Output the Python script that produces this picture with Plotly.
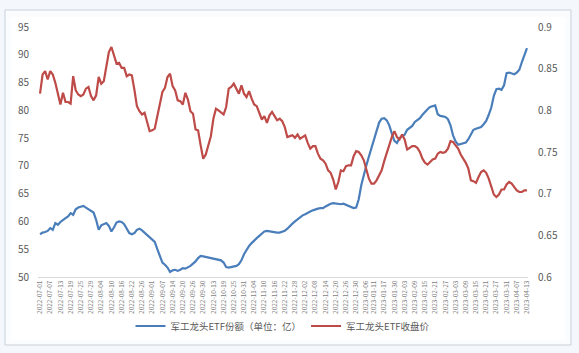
import pandas as pd
import plotly.graph_objects as go

# ---------------- data ----------------
START_DATE = "2022-07-01"
END_DATE = "2023-04-13"
HOLIDAYS = ["2022-09-12", "2022-10-03", "2022-10-04", "2022-10-05", "2022-10-06",
            "2022-10-07", "2023-01-02", "2023-01-23", "2023-01-24", "2023-01-25",
            "2023-01-26", "2023-01-27", "2023-04-05"]

SERIES_SHARES_NAME = "军工龙头ETF份额（单位：亿）"
SERIES_PRICE_NAME = "军工龙头ETF收盘价"

shares = [
    57.7, 58.0, 58.1, 58.3, 58.8, 58.5, 59.7, 59.4, 59.9, 60.3,
    60.6, 60.9, 61.5, 61.2, 62.2, 62.5, 62.7, 62.8, 62.5, 62.2,
    61.8, 61.6, 60.3, 58.5, 59.3, 59.5, 59.7, 59.2, 58.2, 58.9,
    59.8, 60.0, 59.9, 59.5, 58.7, 57.9, 57.7, 57.9, 58.5, 58.7,
    58.4, 58.0, 57.6, 57.2, 56.8, 56.3, 55.0, 53.7, 52.6, 52.2,
    51.7, 50.9, 51.2, 51.3, 51.1, 51.3, 51.6, 51.5, 51.7, 52.0,
    52.4, 52.8, 53.4, 53.8, 53.7, 53.6, 53.5, 53.4, 53.2, 53.1,
    53.0, 53.0, 52.6, 51.8, 51.7, 51.8, 51.9, 52.0, 52.3, 53.0,
    54.1, 54.9, 55.6, 56.1, 56.6, 57.0, 57.4, 57.8, 58.2, 58.3,
    58.2, 58.1, 58.0, 58.0, 58.0, 58.1, 58.3, 58.7, 59.2, 59.6,
    60.0, 60.4, 60.8, 61.1, 61.3, 61.6, 61.8, 62.0, 62.2, 62.3,
    62.4, 62.4, 62.7, 63.0, 63.2, 63.3, 63.2, 63.1, 63.1, 63.2,
    63.0, 62.8, 62.6, 62.4, 62.5, 64.0, 66.5, 68.5, 70.1, 71.7,
    73.3, 74.7, 76.2, 77.8, 78.5, 78.6, 78.2, 77.3, 75.8, 74.5,
    74.1, 75.0, 75.3, 75.6, 76.5, 76.8, 77.2, 77.9, 78.3, 78.6,
    79.2, 79.8, 80.2, 80.6, 80.8, 80.9, 79.3, 79.0, 78.9, 78.8,
    78.4, 77.3, 75.5, 74.4, 73.8, 73.9, 74.1, 74.2, 74.8, 75.8,
    76.5, 76.7, 76.8, 77.0, 77.5, 78.1, 79.2, 80.5, 82.6, 83.8,
    83.9, 83.7, 84.5, 86.7, 86.8, 86.7, 86.5, 86.8, 87.3, 88.7,
    89.9, 91.2,
]

price = [
    0.820, 0.843, 0.847, 0.837, 0.847, 0.843, 0.833, 0.819, 0.807, 0.821,
    0.810, 0.810, 0.808, 0.841, 0.824, 0.819, 0.817, 0.819, 0.826, 0.828,
    0.817, 0.812, 0.818, 0.840, 0.832, 0.835, 0.855, 0.870, 0.876, 0.867,
    0.856, 0.857, 0.851, 0.851, 0.841, 0.843, 0.842, 0.825, 0.805, 0.799,
    0.795, 0.797, 0.785, 0.775, 0.776, 0.778, 0.793, 0.809, 0.822, 0.827,
    0.840, 0.844, 0.829, 0.824, 0.812, 0.811, 0.807, 0.821, 0.813, 0.799,
    0.796, 0.777, 0.776, 0.758, 0.742, 0.747, 0.758, 0.769, 0.790, 0.802,
    0.800, 0.798, 0.795, 0.804, 0.826, 0.828, 0.832, 0.826, 0.820, 0.830,
    0.820, 0.816, 0.823, 0.814, 0.807, 0.805, 0.796, 0.789, 0.793, 0.785,
    0.794, 0.798, 0.793, 0.788, 0.790, 0.787, 0.780, 0.768, 0.769, 0.770,
    0.767, 0.771, 0.766, 0.768, 0.770, 0.761, 0.754, 0.757, 0.757, 0.748,
    0.742, 0.740, 0.736, 0.728, 0.725, 0.717, 0.705, 0.714, 0.728, 0.727,
    0.733, 0.734, 0.734, 0.745, 0.751, 0.750, 0.746, 0.740, 0.729, 0.718,
    0.712, 0.712, 0.716, 0.722, 0.728, 0.739, 0.749, 0.757, 0.768, 0.775,
    0.768, 0.765, 0.771, 0.765, 0.753, 0.755, 0.757, 0.757, 0.755, 0.750,
    0.742, 0.737, 0.735, 0.738, 0.741, 0.742, 0.748, 0.750, 0.749, 0.750,
    0.754, 0.763, 0.762, 0.758, 0.754, 0.747, 0.742, 0.737, 0.730, 0.716,
    0.715, 0.713, 0.720, 0.726, 0.728, 0.725, 0.718, 0.709, 0.699, 0.696,
    0.699, 0.705, 0.705, 0.711, 0.714, 0.712, 0.708, 0.704, 0.702, 0.702,
    0.704, 0.704,
]

TICK_LABELS = [
    "2022-07-01", "2022-07-07", "2022-07-13", "2022-07-19", "2022-07-25", "2022-07-29",
    "2022-08-04", "2022-08-10", "2022-08-16", "2022-08-22", "2022-08-26", "2022-09-01",
    "2022-09-07", "2022-09-14", "2022-09-20", "2022-09-26", "2022-09-30", "2022-10-13",
    "2022-10-19", "2022-10-25", "2022-10-31", "2022-11-04", "2022-11-10", "2022-11-16",
    "2022-11-22", "2022-11-28", "2022-12-02", "2022-12-08", "2022-12-14", "2022-12-20",
    "2022-12-26", "2022-12-30", "2023-01-06", "2023-01-11", "2023-01-17", "2023-01-30",
    "2023-02-03", "2023-02-09", "2023-02-15", "2023-02-21", "2023-02-27", "2023-03-03",
    "2023-03-09", "2023-03-15", "2023-03-21", "2023-03-27", "2023-03-31", "2023-04-07",
    "2023-04-13",
]

LEFT_TICKS = [50, 55, 60, 65, 70, 75, 80, 85, 90, 95]
RIGHT_TICKS = [0.6, 0.65, 0.7, 0.75, 0.8, 0.85, 0.9]

# ---------------- categories ----------------
days = pd.bdate_range(START_DATE, END_DATE)
days = days[~days.isin(pd.to_datetime(HOLIDAYS))]
dates = [d.strftime("%Y-%m-%d") for d in days]
n = min(len(dates), len(shares), len(price))
dates, shares, price = dates[:n], shares[:n], price[:n]
tickvals = [t for t in TICK_LABELS if t in dates]

# ---------------- layout geometry (pixels) ----------------
W, H = 579, 353
L, R, T, B = 38, 51, 27, 76
PW, PH = W - L - R, H - T - B


def px(x):
    return (x - L) / PW


def py(y):
    return (H - B - y) / PH


FONT = "Noto Sans CJK SC, Liberation Sans, Arial, sans-serif"
GREY = "#595959"
BLUE = "#4a7ebb"
RED = "#be4b48"

fig = go.Figure()
fig.add_trace(go.Scatter(x=dates, y=shares, name=SERIES_SHARES_NAME, mode="lines",
                         line=dict(color=BLUE, width=2.2), yaxis="y"))
fig.add_trace(go.Scatter(x=dates, y=price, name=SERIES_PRICE_NAME, mode="lines",
                         line=dict(color=RED, width=2.2), yaxis="y2"))

fig.update_layout(
    width=W, height=H,
    margin=dict(l=L, r=R, t=T, b=B, pad=0),
    paper_bgcolor="#f4f8fc",
    plot_bgcolor="rgba(0,0,0,0)",
    font=dict(family=FONT, color=GREY, size=10),
    showlegend=True,
    legend=dict(orientation="h", x=0.5, xanchor="center", y=py(326), yanchor="middle",
                font=dict(size=9.5, color=GREY), bgcolor="rgba(0,0,0,0)",
                itemwidth=30, tracegroupgap=0),
    xaxis=dict(type="category", range=[-0.8, n - 1 + 0.4], tickmode="array",
               tickvals=tickvals, ticktext=tickvals, tickangle=-90,
               tickfont=dict(size=6.5, color="#7f7f7f"), showgrid=False,
               showline=True, linecolor="#d9d9d9", linewidth=1, ticks="",
               zeroline=False, fixedrange=True),
    yaxis=dict(range=[50, 95], tickmode="array", tickvals=LEFT_TICKS,
               showgrid=False, zeroline=False, showline=False, ticks="",
               tickfont=dict(size=10, color=GREY), ticklabelstandoff=8),
    yaxis2=dict(range=[0.6, 0.9], tickmode="array", tickvals=RIGHT_TICKS,
                overlaying="y", side="right", showgrid=False, zeroline=False,
                showline=False, ticks="", tickfont=dict(size=10, color=GREY),
                ticklabelstandoff=9),
    shapes=[
        dict(type="rect", xref="paper", yref="paper", layer="below",
             x0=px(5), x1=px(571), y0=py(345), y1=py(10),
             fillcolor="#fafcfe", line=dict(color="#c9d1da", width=1)),
        dict(type="rect", xref="paper", yref="paper", layer="below",
             x0=px(11), x1=px(565), y0=py(340), y1=py(17),
             fillcolor="#ffffff", line=dict(width=0)),
    ],
)

fig.write_html("out.html")
